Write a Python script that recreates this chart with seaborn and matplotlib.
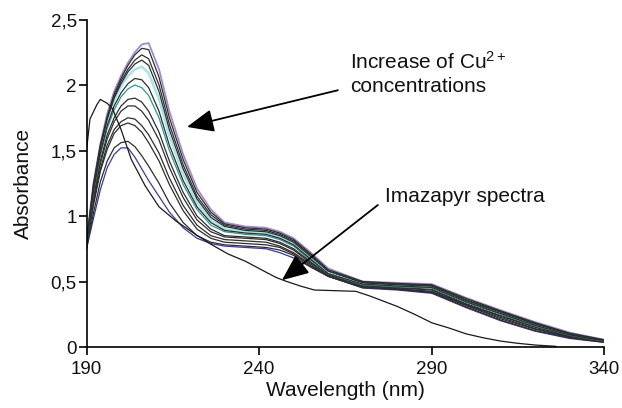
import numpy as np
import pandas as pd
import matplotlib
matplotlib.use("Agg")
import matplotlib.pyplot as plt
import seaborn as sns

# Wavelength grid (nm) shared by the Cu(II) titration spectra
wavelength = [190, 192, 194, 196, 198, 200, 202, 204, 206, 208, 211, 214, 218, 222, 226,
              230, 236, 242, 246, 250, 255, 260, 270, 280, 290, 300, 310, 320, 330, 340]

# Absorbance of each spectrum, from the lowest to the highest Cu2+ concentration
cu_01 = [0.75, 0.98, 1.20, 1.37, 1.47, 1.52, 1.52, 1.45, 1.36, 1.27, 1.15, 1.03, 0.91, 0.83, 0.79,
         0.77, 0.76, 0.75, 0.72, 0.68, 0.61, 0.54, 0.45, 0.435, 0.41, 0.30, 0.20, 0.12, 0.065, 0.035]
cu_02 = [0.75, 1.02, 1.26, 1.42, 1.52, 1.56, 1.57, 1.53, 1.46, 1.38, 1.25, 1.10, 0.95, 0.85, 0.80,
         0.78, 0.77, 0.76, 0.74, 0.70, 0.61, 0.54, 0.455, 0.44, 0.415, 0.305, 0.205, 0.125, 0.07, 0.036]
cu_03 = [0.76, 1.08, 1.34, 1.51, 1.63, 1.69, 1.71, 1.69, 1.64, 1.56, 1.42, 1.24, 1.04, 0.90, 0.83,
         0.80, 0.79, 0.78, 0.76, 0.71, 0.62, 0.54, 0.455, 0.44, 0.42, 0.315, 0.215, 0.135, 0.074, 0.038]
cu_04 = [0.76, 1.10, 1.36, 1.54, 1.66, 1.72, 1.75, 1.74, 1.69, 1.62, 1.48, 1.29, 1.08, 0.93, 0.85,
         0.82, 0.81, 0.80, 0.77, 0.72, 0.63, 0.54, 0.46, 0.445, 0.425, 0.32, 0.225, 0.14, 0.078, 0.04]
cu_05 = [0.77, 1.13, 1.40, 1.59, 1.72, 1.80, 1.84, 1.84, 1.80, 1.73, 1.58, 1.37, 1.14, 0.97, 0.88,
         0.84, 0.83, 0.82, 0.79, 0.74, 0.64, 0.55, 0.465, 0.45, 0.435, 0.325, 0.235, 0.15, 0.082, 0.042]
cu_06 = [0.77, 1.15, 1.42, 1.62, 1.75, 1.84, 1.89, 1.90, 1.87, 1.80, 1.64, 1.42, 1.18, 1.00, 0.90,
         0.85, 0.84, 0.83, 0.80, 0.75, 0.65, 0.55, 0.47, 0.455, 0.44, 0.33, 0.24, 0.155, 0.085, 0.043]
cu_07 = [0.78, 1.18, 1.46, 1.67, 1.81, 1.91, 1.97, 2.00, 1.98, 1.92, 1.75, 1.50, 1.24, 1.05, 0.93,
         0.88, 0.86, 0.85, 0.82, 0.77, 0.66, 0.56, 0.475, 0.46, 0.45, 0.34, 0.25, 0.16, 0.09, 0.045]
cu_08 = [0.78, 1.19, 1.48, 1.69, 1.84, 1.94, 2.01, 2.05, 2.04, 1.98, 1.80, 1.54, 1.27, 1.07, 0.95,
         0.89, 0.87, 0.86, 0.83, 0.78, 0.67, 0.56, 0.48, 0.465, 0.455, 0.345, 0.255, 0.165, 0.092, 0.047]
cu_09 = [0.79, 1.21, 1.50, 1.72, 1.88, 1.99, 2.07, 2.12, 2.14, 2.09, 1.89, 1.61, 1.32, 1.10, 0.97,
         0.90, 0.88, 0.87, 0.84, 0.79, 0.68, 0.57, 0.485, 0.47, 0.46, 0.35, 0.26, 0.17, 0.095, 0.048]
cu_10 = [0.79, 1.22, 1.52, 1.74, 1.90, 2.01, 2.10, 2.16, 2.19, 2.15, 1.95, 1.66, 1.36, 1.13, 0.99,
         0.92, 0.89, 0.88, 0.85, 0.80, 0.69, 0.58, 0.49, 0.475, 0.465, 0.355, 0.265, 0.175, 0.10, 0.05]
cu_11 = [0.80, 1.23, 1.53, 1.75, 1.91, 2.03, 2.12, 2.19, 2.23, 2.20, 2.00, 1.70, 1.39, 1.15, 1.01,
         0.93, 0.90, 0.89, 0.86, 0.81, 0.70, 0.58, 0.495, 0.48, 0.47, 0.36, 0.27, 0.18, 0.10, 0.052]
cu_12 = [0.80, 1.24, 1.54, 1.76, 1.93, 2.05, 2.15, 2.23, 2.28, 2.27, 2.06, 1.75, 1.43, 1.18, 1.03,
         0.94, 0.91, 0.90, 0.87, 0.82, 0.71, 0.59, 0.50, 0.485, 0.475, 0.37, 0.275, 0.185, 0.105, 0.055]
cu_13 = [0.80, 1.25, 1.55, 1.78, 1.95, 2.07, 2.17, 2.25, 2.31, 2.32, 2.12, 1.80, 1.47, 1.21, 1.05,
         0.95, 0.92, 0.91, 0.88, 0.83, 0.72, 0.60, 0.50, 0.49, 0.48, 0.375, 0.28, 0.19, 0.11, 0.055]

cu_series = [cu_01, cu_02, cu_03, cu_04, cu_05, cu_06, cu_07,
             cu_08, cu_09, cu_10, cu_11, cu_12, cu_13]

# Free Imazapyr spectrum
imazapyr_wl = [190, 191, 193, 194, 196, 197.5, 200, 203, 207, 211, 216, 221, 226, 231, 236,
               241, 245, 248, 252, 256, 262, 268, 272, 276, 280, 285, 290, 295, 300, 305,
               310, 315, 320, 326]
imazapyr_abs = [1.50, 1.74, 1.85, 1.89, 1.86, 1.82, 1.66, 1.43, 1.23, 1.07, 0.96, 0.87, 0.785,
                0.71, 0.655, 0.585, 0.53, 0.50, 0.465, 0.435, 0.43, 0.425, 0.39, 0.35, 0.31,
                0.25, 0.185, 0.145, 0.10, 0.07, 0.045, 0.028, 0.015, 0.005]

x_ticks = [190, 240, 290, 340]
y_ticks = [0, 0.5, 1, 1.5, 2, 2.5]
y_tick_labels = ["0", "0,5", "1", "1,5", "2", "2,5"]

sns.set_theme(style="ticks")
plt.rcParams["font.family"] = ["Liberation Sans", "DejaVu Sans"]
plt.rcParams["mathtext.fontset"] = "custom"
plt.rcParams["mathtext.rm"] = "Liberation Sans"
plt.rcParams["mathtext.it"] = "Liberation Sans:italic"
plt.rcParams["mathtext.bf"] = "Liberation Sans:bold"

names = [f"c{i + 1:02d}" for i in range(len(cu_series))]
frames = [pd.DataFrame({"wl": wavelength, "A": vals, "run": name})
          for name, vals in zip(names, cu_series)]
df = pd.concat(frames, ignore_index=True)

dark = "#2e2e2e"
palette = {n: dark for n in names}
palette["c01"] = "#3a3aa6"   # lowest concentration
palette["c07"] = "#2b9a8c"
palette["c09"] = "#a9e4ea"
palette["c13"] = "#a08ad2"   # highest concentration
widths = {n: 0.9 for n in names}
widths["c09"] = 1.8
widths["c13"] = 1.3

fig = plt.figure(figsize=(6.22, 4.08), dpi=100)
ax = fig.add_axes([0.1391, 0.1495, 0.8325, 0.8027])

# draw light lines first so the dark ones stay on top
order = ["c09", "c13"] + [n for n in names if n not in ("c09", "c13")]
for n in order:
    sub = df[df["run"] == n]
    sns.lineplot(data=sub, x="wl", y="A", color=palette[n], lw=widths[n],
                 estimator=None, sort=False, ax=ax, legend=False)

imz = pd.DataFrame({"wl": imazapyr_wl, "A": imazapyr_abs})
sns.lineplot(data=imz, x="wl", y="A", color="#1a1a1a", lw=0.9,
             estimator=None, sort=False, ax=ax, legend=False)

ax.set_xlim(190, 340)
ax.set_ylim(0, 2.5)
ax.set_xticks(x_ticks)
ax.set_xticklabels([str(t) for t in x_ticks])
ax.set_yticks(y_ticks)
ax.set_yticklabels(y_tick_labels)
sns.despine(ax=ax)
for s in ("left", "bottom"):
    ax.spines[s].set_linewidth(1.2)
    ax.spines[s].set_color("black")
ax.tick_params(axis="both", direction="out", length=6, width=1.2, colors="black",
               labelsize=13.5, labelcolor="#111111")
ax.tick_params(axis="y", pad=1)
ax.tick_params(axis="x", pad=4)

ax.set_xlabel("Wavelength (nm)", fontsize=15, color="#111111", labelpad=2)
ax.set_ylabel("Absorbance", fontsize=15, color="#111111", labelpad=13)

# annotations
arrow = dict(arrowstyle="-|>,head_length=0.75,head_width=0.32", color="black",
             lw=1.3, mutation_scale=22, shrinkA=0, shrinkB=0)
ax.annotate("", xy=(219.1, 1.68), xytext=(262.8, 1.96), arrowprops=arrow)
ax.annotate("", xy=(246.6, 0.51), xytext=(274.4, 1.084), arrowprops=arrow)

ax.text(266.3, 2.12, "Increase of Cu$^{2+}$", fontsize=15, color="#111111",
        ha="left", va="baseline")
ax.text(266.3, 1.943, "concentrations", fontsize=15, color="#111111",
        ha="left", va="baseline")
ax.text(276.4, 1.107, "Imazapyr spectra", fontsize=15, color="#111111",
        ha="left", va="baseline")

fig.savefig("out.png", dpi=100)
